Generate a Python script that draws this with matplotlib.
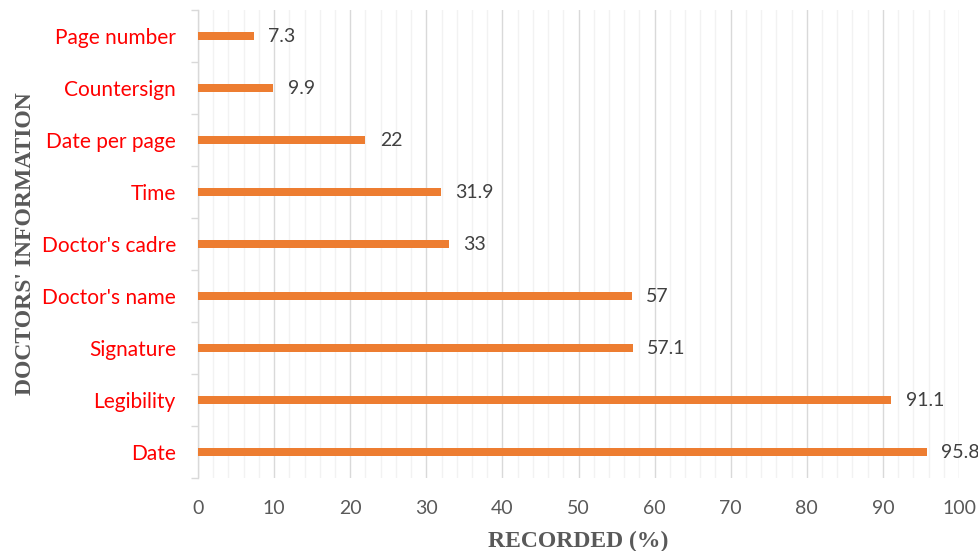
import matplotlib
matplotlib.use("Agg")
import matplotlib.pyplot as plt
import numpy as np

# categories listed bottom to top
items = ["Date", "Legibility", "Signature", "Doctor's name", "Doctor's cadre",
         "Time", "Date per page", "Countersign", "Page number"]
recorded = [95.8, 91.1, 57.1, 57, 33, 31.9, 22, 9.9, 7.3]
value_labels = ["95.8", "91.1", "57.1", "57", "33", "31.9", "22", "9.9", "7.3"]

fig = plt.figure(figsize=(9.79, 5.51), dpi=100)
ax = fig.add_axes([198 / 979, 1 - 478 / 551, (959 - 198) / 979, (478 - 10) / 551])

y = np.arange(len(items))
ax.barh(y, recorded, height=0.17, color="#ED7D31", zorder=3)

for yi, v, lab in zip(y, recorded, value_labels):
    ax.text(v + 1.9, yi, lab, va="center", ha="left", fontsize=14,
            color="#404040", family="Lato")

ax.set_xlim(0, 100)
ax.set_ylim(-0.5, len(items) - 0.5)
ax.set_xticks(np.arange(0, 101, 10))
ax.set_xticks(np.arange(0, 101, 2), minor=True)
ax.set_yticks(y)
ax.set_yticklabels(items, color="red", fontsize=15, family="Lato")
ax.set_yticks(np.arange(-0.5, len(items), 1), minor=True)

ax.grid(axis="x", which="major", color="#d9d9d9", lw=1, zorder=0)
ax.grid(axis="x", which="minor", color="#f2f2f2", lw=1, zorder=0)

for s in ["top", "right", "bottom"]:
    ax.spines[s].set_visible(False)
ax.spines["left"].set_color("#d9d9d9")
ax.spines["left"].set_linewidth(1)

ax.tick_params(axis="x", which="both", length=0, pad=16, labelsize=14,
               labelcolor="#595959")
for t in ax.get_xticklabels():
    t.set_family("Lato")
ax.tick_params(axis="y", which="major", length=0, pad=16)
ax.tick_params(axis="y", which="minor", length=5, color="#d9d9d9", width=1)

ax.set_xlabel("RECORDED (%)", family="Liberation Serif", fontweight="bold",
              fontsize=17, color="#595959", labelpad=10)
ax.set_ylabel("DOCTORS' INFORMATION", family="Liberation Serif", fontweight="bold",
              fontsize=17, color="#595959", labelpad=4)

fig.savefig("out.png", dpi=100)
